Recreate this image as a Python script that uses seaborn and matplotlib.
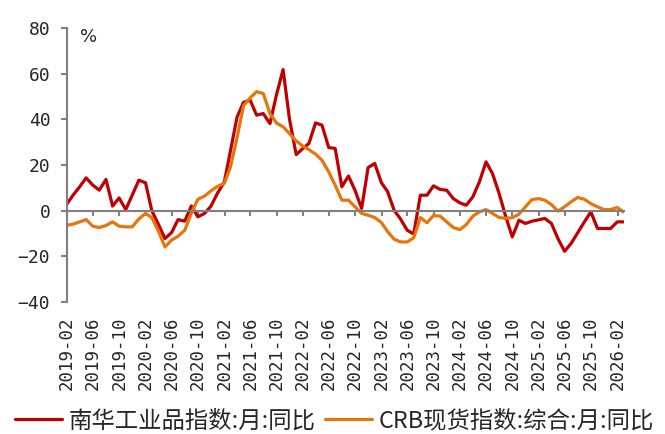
import pandas as pd
import matplotlib
import matplotlib.pyplot as plt
import matplotlib.dates as mdates
import seaborn as sns

matplotlib.use("Agg")
sns.set_theme(style="white")
plt.rcParams["font.family"] = ["DejaVu Sans Mono", "Noto Sans CJK SC"]

# monthly data, Jan 2019 .. Feb 2026 (month-end)
dates = pd.date_range("2019-01-31", periods=86, freq="ME")

nanhua = [
    3.0, 6.8, 10.5, 14.4, 11.2, 9.0, 13.7, 2.0, 5.6, 0.5,
    6.8, 13.4, 12.2, 0.0, -6.0, -12.2, -9.6, -3.9, -4.6, 2.1,
    -2.7, -1.2, 2.0, 7.8, 12.6, 26.0, 41.0, 47.5, 48.5, 41.9,
    42.6, 38.2, 50.7, 61.9, 40.0, 24.6, 27.3, 29.5, 38.5, 37.5,
    27.7, 27.3, 10.5, 15.2, 9.0, 1.0, 18.9, 20.7, 12.2, 8.5,
    0.2, -3.7, -8.6, -10.2, 6.8, 6.8, 10.9, 9.3, 9.0, 5.3,
    3.4, 2.4, 6.1, 12.6, 21.4, 16.3, 7.5, -2.7, -11.5, -4.2,
    -5.6, -4.6, -4.0, -3.4, -5.6, -12.2, -17.8, -14.4, -9.7, -4.9,
    -0.5, -7.8, -7.8, -7.8, -4.9, -4.9,
]
crb = [
    -6.4, -5.9, -4.9, -3.9, -6.8, -7.4, -6.5, -4.9, -6.8, -7.1,
    -7.1, -3.6, -1.2, -3.0, -9.0, -15.9, -12.9, -11.2, -8.6, -1.0,
    5.0, 6.4, 8.7, 10.7, 12.0, 19.0, 32.0, 46.0, 49.5, 52.2,
    51.4, 42.6, 38.5, 36.8, 33.8, 30.6, 28.3, 26.8, 24.8, 22.1,
    17.0, 11.2, 4.6, 4.6, 1.7, -1.2, -2.0, -3.0, -5.2, -9.1,
    -12.5, -13.7, -13.7, -11.9, -3.0, -5.3, -2.1, -2.4, -4.9, -7.4,
    -8.3, -6.1, -2.4, -0.5, 0.5, -1.2, -3.0, -3.3, -3.1, -1.5,
    1.7, 4.9, 5.3, 4.6, 2.7, -0.2, 1.7, 3.9, 5.8, 5.0,
    3.1, 1.7, 0.5, 0.5, 1.4, -0.5,
]

series_names = ["南华工业品指数:月:同比", "CRB现货指数:综合:月:同比"]
colors = ["#C00000", "#E8740C"]
tick_dates = pd.date_range("2019-02-01", "2026-02-01", freq="4MS")

df = pd.concat([
    pd.DataFrame({"date": dates, "value": nanhua, "series": series_names[0]}),
    pd.DataFrame({"date": dates, "value": crb, "series": series_names[1]}),
])

fig = plt.figure(figsize=(6.65, 4.34), dpi=100)
ax = fig.add_axes([67 / 665, 0.3044, 0.8382, 0.6304])

sns.lineplot(data=df, x="date", y="value", hue="series", hue_order=series_names,
             palette=colors, linewidth=2.3, ax=ax)

ax.set_xlim(pd.Timestamp("2019-01-31"), pd.Timestamp("2026-03-05"))
ax.set_ylim(-40, 80)
ax.set_yticks(range(-40, 81, 20))
ax.set_xticks(tick_dates)
ax.xaxis.set_major_formatter(mdates.DateFormatter("%Y-%m"))
ax.set_xlabel("")
ax.set_ylabel("")

for side in ["top", "right"]:
    ax.spines[side].set_visible(False)
ax.spines["bottom"].set_position(("data", 0))
for side in ["left", "bottom"]:
    ax.spines[side].set_color("#808080")
    ax.spines[side].set_linewidth(1.5)

ax.tick_params(axis="y", direction="out", length=4, width=1.5, color="#808080",
               labelsize=13, pad=8, left=True, labelfontfamily="DejaVu Sans Mono")
ax.tick_params(axis="x", direction="out", length=3.5, width=1.5, color="#808080",
               labelsize=12.5, pad=73, labelrotation=90, bottom=True,
               labelfontfamily="DejaVu Sans Mono")
for lab in ax.get_xticklabels():
    lab.set_verticalalignment("top")

ax.text(0.038, 0.968, "%", transform=ax.transAxes, ha="center", va="center",
        fontsize=13, family="DejaVu Sans")

handles, labels = ax.get_legend_handles_labels()
ax.get_legend().remove()
fig.legend(handles, labels, loc="center", bbox_to_anchor=(0.503, 0.03), ncol=2,
           frameon=False, handlelength=2.0, handletextpad=0.3, columnspacing=0.4,
           prop={"family": ["Noto Sans CJK SC", "DejaVu Sans"], "size": 16.8})

fig.savefig("out.png", dpi=100)
